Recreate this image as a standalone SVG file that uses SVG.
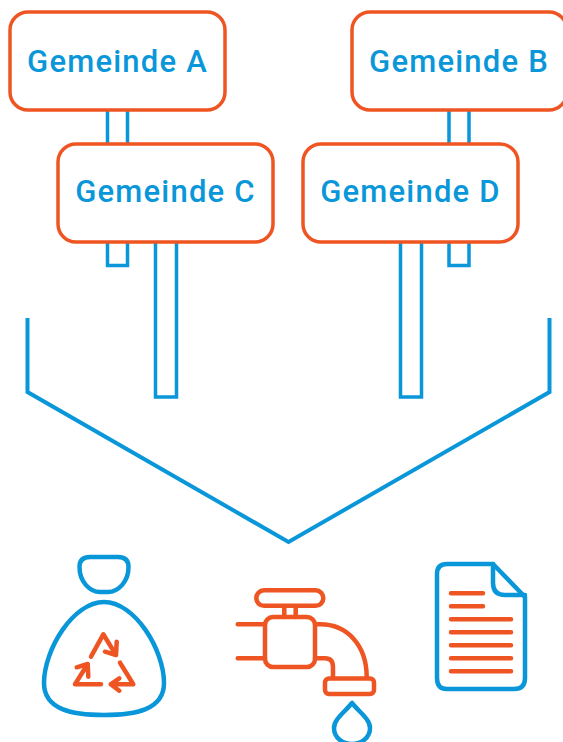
<svg xmlns="http://www.w3.org/2000/svg" width="563" height="742" viewBox="0 0 563 742">
<style>
.box{fill:#fff;stroke:#ee5522;stroke-width:3.500}
.lbl{font-family:Roboto,"Liberation Sans",sans-serif;font-weight:500;font-size:31px;letter-spacing:1.200px;fill:#0a97d9;text-anchor:middle}
.b{fill:none;stroke:#0a97d9;stroke-width:3.500}
.bi{fill:none;stroke:#0a97d9;stroke-width:4.500;stroke-linejoin:round;stroke-linecap:round}
.o{fill:none;stroke:#ee5522;stroke-width:4.500;stroke-linejoin:round;stroke-linecap:round}
</style>
<g id="connectors">
<path class="b" d="M107.500 108V265.500H127.500V108"/>
<path class="b" d="M155.500 240V397H176.500V240"/>
<path class="b" d="M449 108V265.500H469V108"/>
<path class="b" d="M400.500 240V397H421.500V240"/>
<path class="b" style="stroke-width:4" d="M27.500 318V392L288.500 542L549.500 392V318"/>
</g>
<g id="gemeinde-a"><rect class="box" x="10" y="12" width="215" height="98" rx="18"/><text class="lbl" x="117.500" y="72">Gemeinde A</text></g>
<g id="gemeinde-b"><rect class="box" x="352" y="12" width="215" height="98" rx="18"/><text class="lbl" x="459" y="72">Gemeinde B</text></g>
<g id="gemeinde-c"><rect class="box" x="58" y="144" width="215" height="98" rx="18"/><text class="lbl" x="165.500" y="202">Gemeinde C</text></g>
<g id="gemeinde-d"><rect class="box" x="303" y="144" width="215" height="98" rx="18"/><text class="lbl" x="410.500" y="202">Gemeinde D</text></g>
<g id="bag">
<path class="bi" d="M90 557H118Q128.500 557 128.500 567C128.500 582 118 592 108 592H100C90 592 79.500 582 79.500 567Q79.500 557 90 557Z"/>
<path class="bi" d="M104 602C135 602 164 650 164 683C164 710 135 715 104 715C73 715 44 710 44 683C44 650 73 602 104 602Z"/>
<path class="o" d="M91 656.700L103.300 634.300L116 655M105 651.700L116 655L116.700 641.700"/>
<path class="o" d="M120 662.700L133.300 684.300H110.700M119.300 678.300L110.700 684.300L119.300 690.700"/>
<path class="o" d="M101 684.300H75L87.700 664M76.700 667.300L87.700 664L88.300 676.700"/>
</g>
<g id="tap">
<rect class="o" x="256.300" y="590.300" width="67" height="15.500" rx="7.700"/>
<path class="o" d="M284.300 606V617M295.700 606V617"/>
<rect class="o" x="265" y="617" width="50" height="50" rx="8"/>
<path class="o" d="M237.700 624.300H265M237.700 658.300H265"/>
<path class="o" d="M315 624.300H320C347 624.300 366.700 645 366.700 677M315 658.300H325Q333 658.300 333 667V677"/>
<rect class="o" x="325" y="678.500" width="49" height="15.500" rx="4"/>
<path class="bi" d="M352 703C345 712 334 719 334 728C334 738 343 744 352 744C361 744 370 738 370 728C370 719 359 712 352 703Z"/>
</g>
<g id="document">
<path class="bi" d="M447 564H493L525 597V678Q525 689 514 689H447Q437 689 437 678V574Q437 564 447 564Z"/>
<path class="bi" d="M493 564V583Q493 595 505 595H525"/>
<path class="o" d="M451 593.300H483M451 606.300H483M451 619.300H511M451 632.300H511M451 645.300H511M451 658.300H511M451 671.300H511"/>
</g>
</svg>
